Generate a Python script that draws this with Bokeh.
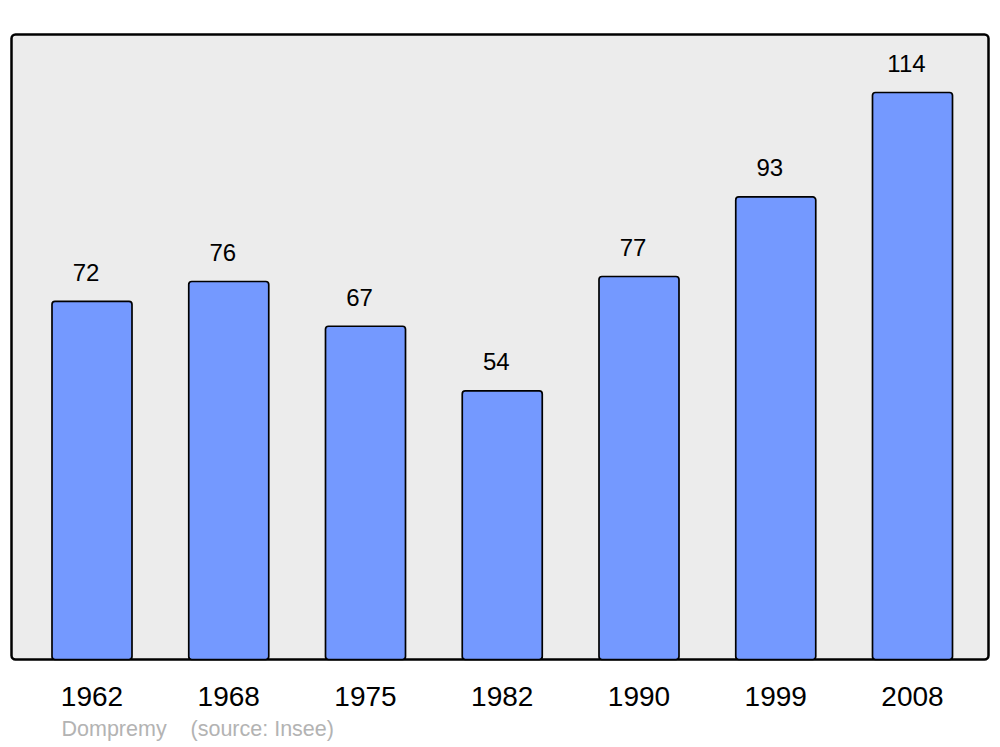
from bokeh.plotting import figure
from bokeh.models import Range1d, FixedTicker, BoxAnnotation, Title, ColumnDataSource
from bokeh.core.properties import value
from bokeh.embed import file_html
from bokeh.resources import INLINE

years = ["1962", "1968", "1975", "1982", "1990", "1999", "2008"]
population = [72, 76, 67, 54, 77, 93, 114]
place = "Dompremy"
source_note = "(source: Insee)"

idx = list(range(len(years)))
src = ColumnDataSource(dict(x=idx, y=population, lab=[str(v) for v in population]))

FONT = "Liberation Sans"

# ranges: frame slightly larger than the drawn rounded box
X0, X1 = -0.6106, 6.5777
Y0, Y1 = -0.603, 126.26
PAD_X = 3 / 136.75
PAD_Y = 3 / 4.974

p = figure(width=996, height=747, output_backend="svg", toolbar_location=None,
           x_range=Range1d(X0, X1), y_range=Range1d(Y0, Y1),
           min_border_left=8, min_border_right=5, min_border_top=31, min_border_bottom=85)
p.background_fill_color = "white"
p.border_fill_color = "white"
p.outline_line_color = None
p.grid.visible = False
p.yaxis.visible = False

frame_box = BoxAnnotation(left=X0 + PAD_X, right=X1 - PAD_X, bottom=0, top=Y1 - PAD_Y,
                          fill_color="#ececec", fill_alpha=1, line_color="black",
                          line_alpha=1, line_width=2.5, border_radius=4, level="underlay")
p.add_layout(frame_box)

p.vbar(x="x", top="y", bottom=0, width=0.585, source=src, fill_color="#7499ff",
       line_color="black", line_width=1.7, border_radius=3)

p.text(x="x", y="y", text="lab", source=src, text_align="center",
       text_baseline="alphabetic", y_offset=-29, x_offset=-6,
       text_font=value(FONT), text_font_size="24px", text_color="black")

ax = p.xaxis[0]
ax.ticker = FixedTicker(ticks=idx)
ax.major_label_overrides = {i: y for i, y in zip(idx, years)}
ax.axis_line_color = None
ax.major_tick_line_color = None
ax.minor_tick_line_color = None
ax.major_label_text_font = FONT
ax.major_label_text_font_size = "28px"
ax.major_label_text_color = "black"
ax.major_label_standoff = 18

note = Title(text=place + "\u00a0\u00a0\u00a0\u00a0" + source_note, align="left", offset=53,
             text_font=FONT, text_font_size="21.5px", text_font_style="normal",
             text_color="#b3b3b3", standoff=12)
p.add_layout(note, "below")

open("out.html", "w").write(file_html(p, INLINE))
